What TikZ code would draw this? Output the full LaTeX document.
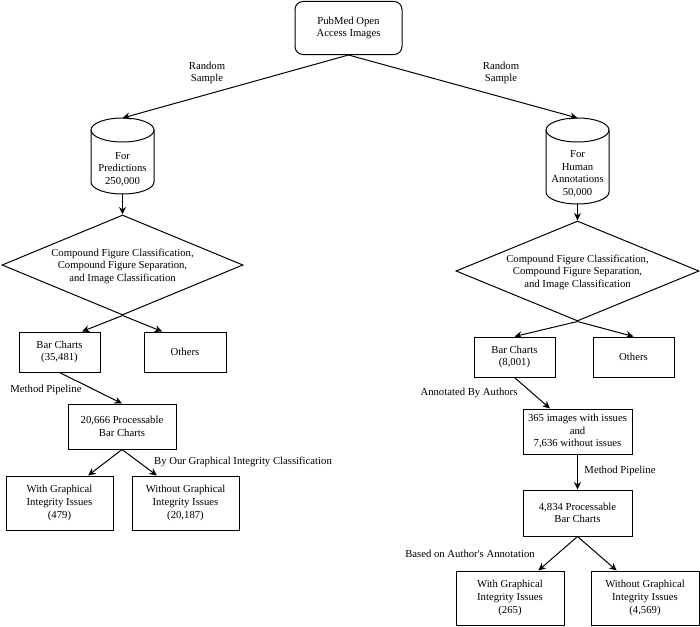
\documentclass[tikz,border=0pt]{standalone}
\usepackage{fontspec}
\setmainfont{Liberation Serif}
\usetikzlibrary{arrows.meta,shapes.geometric,calc}
\begin{document}
\begin{tikzpicture}[x=1pt,y=-1pt,line width=1pt,
  font=\fontsize{10.7}{12.6}\selectfont,
  box/.style={draw, rectangle, align=center, inner sep=0pt},
  plain/.style={align=center, inner sep=0pt},
  arr/.style={draw, -{Stealth[length=7.5pt,width=7pt]}},
  dia/.style={draw, diamond, minimum width=241pt, minimum height=100pt, inner sep=0pt}
]
\useasboundingbox (0,0) rectangle (700,626);

% top source
\node[box, rounded corners=8pt, minimum width=107pt, minimum height=53pt] (pub) at (348.5,28) {PubMed Open\\Access Images};

% left cylinder
\coordinate (cLtop) at (122.5,118);
\coordinate (cLbot) at (122.5,194);
\draw (122.5,130) ellipse [x radius=31.5, y radius=12];
\draw (91,130) -- (91,182) arc [start angle=180, end angle=0, x radius=31.5, y radius=12] -- (154,130);
\node[plain] (cylL) at (122.5,169) {For\\Predictions\\250,000};

% right cylinder
\coordinate (cRtop) at (577.5,118);
\coordinate (cRbot) at (577.5,204);
\draw (577.5,130) ellipse [x radius=31.5, y radius=12];
\draw (546,130) -- (546,192) arc [start angle=180, end angle=0, x radius=31.5, y radius=12] -- (609,130);
\node[plain] (cylR) at (577.5,174) {For\\Human\\Annotations\\50,000};

% diamonds
\node[dia] (dL) at (122.5,265) {};
\node[plain] (dLt) at (122.5,266) {Compound Figure Classification,\\Compound Figure Separation,\\and Image Classification};
\node[dia, minimum width=243pt] (dR) at (577.5,271) {};
\node[plain] (dRt) at (577.5,272) {Compound Figure Classification,\\Compound Figure Separation,\\and Image Classification};

% left branch boxes
\node[box, minimum width=81pt, minimum height=40pt] (barL) at (59.5,352) {Bar Charts\\(35,481)};
\node[box, minimum width=82pt, minimum height=40pt] (othL) at (185,352) {Others};
\node[box, minimum width=108pt, minimum height=45pt] (procL) at (122,426.5) {20,666 Processable\\Bar Charts};
\node[box, minimum width=107pt, minimum height=54pt] (withL) at (59.5,503) {With Graphical\\Integrity Issues\\(479)};
\node[box, minimum width=107pt, minimum height=54pt] (woL) at (185.5,503) {Without Graphical\\Integrity Issues\\(20,187)};

% right branch boxes
\node[box, minimum width=81pt, minimum height=40pt] (barR) at (514.5,357) {Bar Charts\\(8,001)};
\node[box, minimum width=81pt, minimum height=40pt] (othR) at (633.5,357) {Others};
\node[box, minimum width=109pt, minimum height=45pt] (annR) at (577.5,431.5) {365 images with issues\\and\\7,636 without issues};
\node[box, minimum width=109pt, minimum height=46pt] (procR) at (577.5,513) {4,834 Processable\\Bar Charts};
\node[box, minimum width=108pt, minimum height=54pt] (withR) at (510,598) {With Graphical\\Integrity Issues\\(265)};
\node[box, minimum width=108pt, minimum height=54pt] (woR) at (645,598) {Without Graphical\\Integrity Issues\\(4,569)};

% connectors
\draw[arr] (pub.south) -- (cLtop);
\draw[arr] (pub.south) -- (cRtop);
\draw[arr] (cLbot) -- (dL.north);
\draw[arr] (cRbot) -- (dR.north);
\draw[arr] (dL.south) -- ($(barL.north)!0.55!(barL.north east)$);
\draw[arr] (dL.south) -- ($(othL.north)!0.55!(othL.north west)$);
\draw[arr] (dR.south) -- (barR.north);
\draw[arr] (dR.south) -- (othR.north);
\draw[arr] (barL.south) -- (procL.north);
\draw[arr] (procL.south) -- ($(withL.north)!0.53!(withL.north east)$);
\draw[arr] (procL.south) -- ($(woL.north)!0.53!(woL.north west)$);
\draw[arr] (barR.south) -- ($(annR.north)!0.5!(annR.north west)$);
\draw[arr] (annR.south) -- (procR.north);
\draw[arr] (procR.south) -- ($(withR.north)!0.52!(withR.north east)$);
\draw[arr] (procR.south) -- ($(woR.north)!0.52!(woR.north west)$);

% labels
\node[plain] (lRL) at (207,73) {Random\\Sample};
\node[plain] (lRR) at (501,73) {Random\\Sample};
\node[plain] (lMPL) at (46,390) {Method Pipeline};
\node[plain] (lGIC) at (243,462) {By Our Graphical Integrity Classification};
\node[plain] (lABA) at (469,393) {Annotated By Authors};
\node[plain] (lMPR) at (620,471) {Method Pipeline};
\node[plain] (lBAA) at (470,554) {Based on Author\textquotesingle s Annotation};
\end{tikzpicture}
\end{document}
